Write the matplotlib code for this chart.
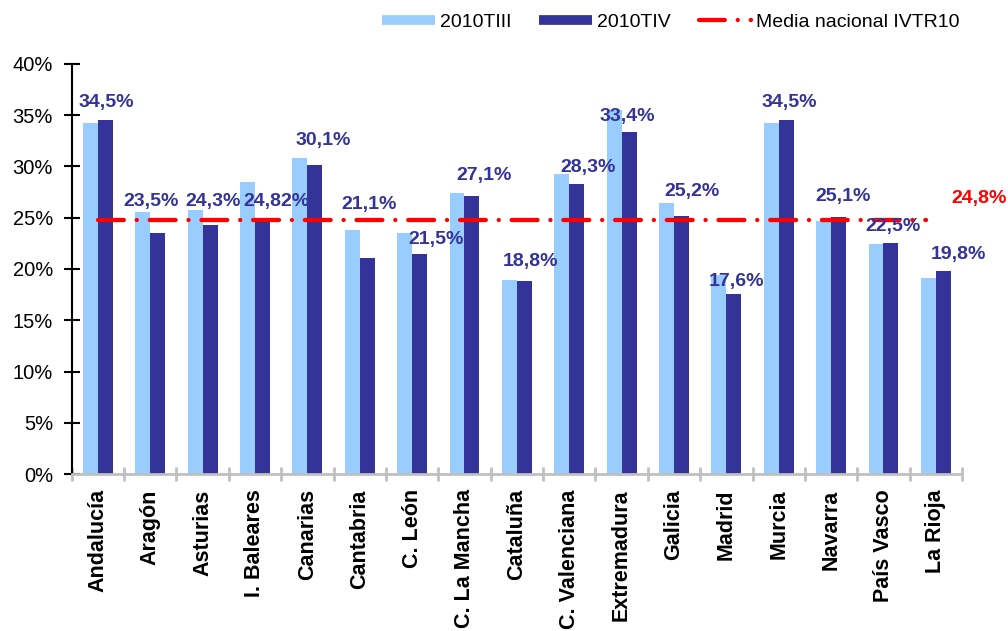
import numpy as np
import matplotlib
matplotlib.use("Agg")
import matplotlib.pyplot as plt
from matplotlib.lines import Line2D

plt.rcParams['font.family'] = ['Liberation Sans', 'DejaVu Sans']

# --- data ---
regions = ["Andalucía", "Aragón", "Asturias", "I. Baleares", "Canarias", "Cantabria",
           "C. León", "C. La Mancha", "Cataluña", "C. Valenciana", "Extremadura",
           "Galicia", "Madrid", "Murcia", "Navarra", "País Vasco", "La Rioja"]
t3_2010 = [34.2, 25.6, 25.8, 28.5, 30.8, 23.8, 23.5, 27.4, 18.9, 29.3, 35.5,
           26.4, 19.4, 34.2, 24.7, 22.4, 19.1]
t4_2010 = [34.5, 23.5, 24.3, 24.82, 30.1, 21.1, 21.5, 27.1, 18.8, 28.3, 33.4,
           25.2, 17.6, 34.5, 25.1, 22.5, 19.8]
t4_labels = ["34,5%", "23,5%", "24,3%", "24,82%", "30,1%", "21,1%", "21,5%", "27,1%",
             "18,8%", "28,3%", "33,4%", "25,2%", "17,6%", "34,5%", "25,1%", "22,5%", "19,8%"]
media_nacional = 24.8
media_label = "24,8%"

# label placement (data coords)
label_x = [0.155, 1.019, 2.197, 3.418, 4.309, 5.174, 6.466, 7.382, 8.252, 9.366,
           10.107, 11.351, 12.202, 13.208, 14.219, 15.174, 16.439]
label_y = [36.2, 26.6, 26.6, 26.6, 32.5, 26.3, 22.9, 29.1, 20.7, 29.9,
           34.9, 27.6, 18.8, 36.2, 27.1, 24.1, 21.4]

light = '#99CCFF'
dark = '#333399'
red = '#FF0000'
grey = '#C0C0C0'

fig = plt.figure(figsize=(10.08, 6.31), dpi=100)
ax = fig.add_axes([0.0711, 0.2488, 0.8833, 0.6498])

x = np.arange(len(regions))
w = 0.285
ax.bar(x - w / 2, t3_2010, width=w, color=light, zorder=2)
ax.bar(x + w / 2, t4_2010, width=w, color=dark, zorder=2)

# national average line
ax.plot([0, 15.82], [media_nacional, media_nacional], color=red, lw=3.1,
        dashes=[6, 3, 0.01, 3], dash_capstyle='round', zorder=3)

for lx, ly, txt in zip(label_x, label_y, t4_labels):
    ax.text(lx, ly, txt, ha='center', va='center', fontsize=14,
            fontweight='bold', color=dark, zorder=4)
ax.text(16.82, 26.9, media_label, ha='center', va='center', fontsize=14,
        fontweight='bold', color=red, clip_on=False, zorder=4)

ax.set_xlim(-0.5, 16.5)
ax.set_ylim(0, 40)
ax.set_yticks(np.arange(0, 41, 5))
ax.set_yticklabels([f"{v}%" for v in range(0, 41, 5)], fontsize=14.5)

ax.set_xticks(x)
ax.set_xticklabels(regions, rotation=90, fontsize=15.5, fontweight='bold')
ax.set_xticks(np.arange(-0.5, 17, 1), minor=True)
ax.tick_params(axis='x', which='major', length=0, pad=11)
ax.tick_params(axis='x', which='minor', direction='inout', length=10, width=2,
               color=grey)
ax.tick_params(axis='y', direction='inout', length=11, width=1.5, color='black',
               pad=8)

for s in ['top', 'right']:
    ax.spines[s].set_visible(False)
ax.spines['left'].set_linewidth(1.5)
ax.spines['bottom'].set_color(grey)
ax.spines['bottom'].set_linewidth(2)

handles = [Line2D([], [], color=light, lw=7, solid_capstyle='butt'),
           Line2D([], [], color=dark, lw=7, solid_capstyle='butt'),
           Line2D([], [], color=red, lw=3.1, dashes=[6, 3, 0.01, 3],
                  dash_capstyle='round')]
fig.legend(handles, ["2010TIII", "2010TIV", "Media nacional IVTR10"],
           loc='center right', bbox_to_anchor=(960 / 1008, 1 - 22 / 631),
           ncol=3, frameon=False, fontsize=14, handlelength=2.7,
           handletextpad=0.26, columnspacing=1.45, borderaxespad=0, borderpad=0)

fig.savefig("out.png", dpi=100)
